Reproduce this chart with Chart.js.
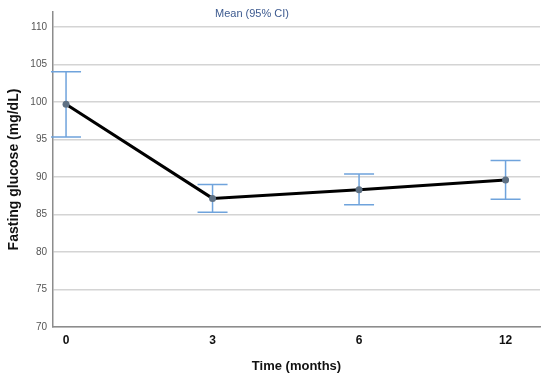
<!DOCTYPE html>
<html><head><meta charset="utf-8">
<script src="https://cdn.jsdelivr.net/npm/chart.js@4"></script>
<style>html,body{margin:0;padding:0;background:#fff}#wrap{width:550px;height:381px}</style>
</head><body><div id="wrap"><canvas id="c" width="550" height="381"></canvas></div>
<script>
const categories = ["0", "3", "6", "12"];
const means = [99.7, 87.15, 88.3, 89.6];
const ciLower = [95.35, 85.3, 86.3, 87.05];
const ciUpper = [104.05, 89.0, 90.4, 92.2];
const yTicks = [70, 75, 80, 85, 90, 95, 100, 105, 110];

const FONT = "'Liberation Sans', Arial, sans-serif";

const errorBars = {
  id: 'errorBars',
  beforeDatasetsDraw(chart) {
    const {ctx, scales: {x, y}} = chart;
    ctx.save();
    ctx.strokeStyle = '#6fa3dc';
    ctx.lineWidth = 1.5;
    const half = 15;
    means.forEach((m, i) => {
      const px = x.getPixelForValue(i);
      const yl = y.getPixelForValue(ciLower[i]);
      const yu = y.getPixelForValue(ciUpper[i]);
      ctx.beginPath();
      ctx.moveTo(px, yl); ctx.lineTo(px, yu);
      ctx.moveTo(px - half, yl); ctx.lineTo(px + half, yl);
      ctx.moveTo(px - half, yu); ctx.lineTo(px + half, yu);
      ctx.stroke();
    });
    ctx.restore();
  }
};

const topLabel = {
  id: 'topLabel',
  afterDraw(chart) {
    const {ctx} = chart;
    ctx.save();
    ctx.fillStyle = '#3d5a8f';
    ctx.font = "11px " + FONT;
    ctx.textAlign = 'center';
    ctx.textBaseline = 'middle';
    ctx.fillText('Mean (95% CI)', 252, 14);
    ctx.restore();
  }
};

new Chart(document.getElementById('c'), {
  type: 'line',
  data: {
    datasets: [{
      data: means.map((v, i) => ({x: i, y: v})),
      borderColor: '#000',
      borderWidth: 3,
      pointRadius: 3.5,
      pointBackgroundColor: '#5f7184',
      pointBorderColor: '#5f7184',
      pointBorderWidth: 0,
      tension: 0,
      fill: false
    }]
  },
  options: {
    responsive: false,
    animation: false,
    devicePixelRatio: 1,
    layout: {padding: {top: 12, right: 10, left: 0, bottom: 0}},
    plugins: {legend: {display: false}, tooltip: {enabled: false}},
    scales: {
      x: {
        type: 'linear',
        min: -0.089,
        max: 3.235,
        afterBuildTicks(scale) { scale.ticks = categories.map((c, i) => ({value: i})); },
        afterFit(scale) { scale.height = 54; },
        ticks: {
          callback: (v) => categories[v],
          color: '#111',
          font: {family: FONT, size: 12, weight: 'bold'},
          padding: 6,
          maxRotation: 0
        },
        grid: {display: false, drawTicks: false},
        border: {display: true, color: '#8c8c8c', width: 1.5},
        title: {
          display: true, text: 'Time (months)', color: '#111',
          font: {family: FONT, size: 13, weight: 'bold'},
          padding: {top: 0, bottom: 7}
        }
      },
      y: {
        type: 'linear',
        min: 70,
        max: 112,
        afterBuildTicks(scale) { scale.ticks = yTicks.map(v => ({value: v})); },
        afterFit(scale) { scale.width = 53; },
        ticks: {
          color: '#555',
          font: {family: FONT, size: 10},
          padding: 6
        },
        grid: {color: '#d4d4d4', lineWidth: 1.5, drawTicks: false},
        border: {display: true, color: '#8c8c8c', width: 1.5},
        title: {
          display: true, text: 'Fasting glucose (mg/dL)', color: '#111',
          font: {family: FONT, size: 14, weight: 'bold'},
          padding: {top: 6, bottom: 0}
        }
      }
    }
  },
  plugins: [errorBars, topLabel]
});
</script></body></html>
